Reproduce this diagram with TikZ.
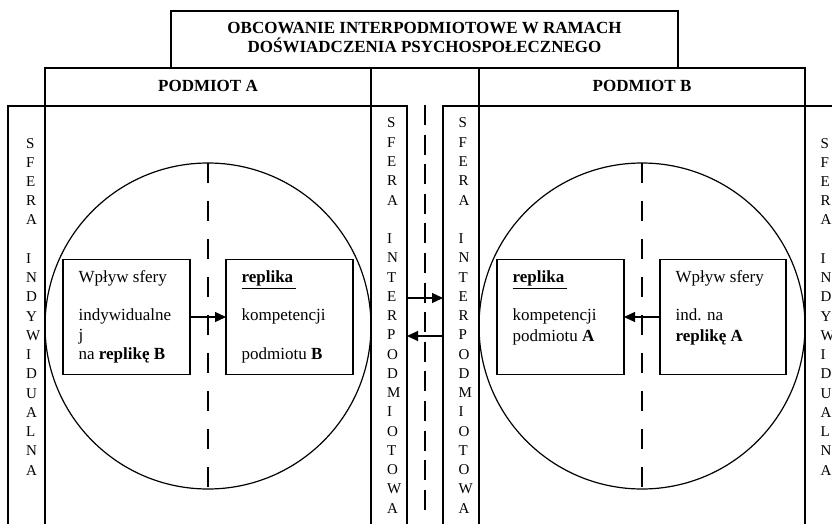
\documentclass[tikz,border=0pt]{standalone}
\usepackage{fontspec}
\setmainfont{Liberation Serif}
\usetikzlibrary{arrows.meta}
\begin{document}
\begin{tikzpicture}[x=1pt,y=-1pt, line width=1.2pt,
  frame/.style={draw, rectangle, inner sep=0pt, outer sep=0pt},
  box/.style={draw, rectangle, minimum width=127, minimum height=115.5, inner sep=0pt, outer sep=0pt},
  txt/.style={font=\fontsize{17}{19}\selectfont, inner sep=0pt, anchor=base west},
  head/.style={font=\bfseries\fontsize{17}{19}\selectfont, inner sep=0pt, anchor=base},
  vlet/.style={font=\fontsize{15}{18}\selectfont, inner sep=0pt, anchor=base west},
  arr/.style={-{Triangle[length=11pt,width=10pt]}, line width=1.2pt},
  cdash/.style={dash pattern=on 20pt off 18.06pt},
  mdash/.style={dash pattern=on 20pt off 9.6pt}]
\useasboundingbox (0,0) rectangle (832,524);
\clip (0,0) rectangle (832,524);
% frame
\node[frame, minimum width=507, minimum height=57] (title) at (424.5,39.5) {};
\node[head] (t1) at (424.5,33.3) {OBCOWANIE INTERPODMIOTOWE W RAMACH};
\node[head] (t2) at (424.5,52.7) {DOŚWIADCZENIA PSYCHOSPOŁECZNEGO};
\node[frame, minimum width=326, minimum height=38] (hA) at (208,87) {};
\node[frame, minimum width=326, minimum height=38] (hB) at (642,87) {};
\node[head] (hAt) at (208,91.7) {PODMIOT A};
\node[head] (hBt) at (642,91.7) {PODMIOT B};
\node[frame, minimum width=37, minimum height=434] (colL) at (26.5,323) {};
\node[frame, minimum width=326, minimum height=434] (regA) at (208,323) {};
\node[frame, minimum width=36, minimum height=434] (sL) at (389,323) {};
\node[frame, minimum width=36, minimum height=434] (sR) at (461,323) {};
\node[frame, minimum width=326, minimum height=434] (regB) at (642,323) {};
\node[frame, minimum width=40, minimum height=434] (colR) at (825,323) {};
% middle dashed line
\coordinate (mt) at (425,105);
\coordinate (mb) at (425,510);
\draw[mdash] (mt) -- (mb);
% circles
\node[draw, circle, minimum size=326, inner sep=0pt, outer sep=0pt] (cA) at (208,326) {};
\node[draw, circle, minimum size=326, inner sep=0pt, outer sep=0pt] (cB) at (642,326) {};
\draw[cdash] (cA.north) -- (cA.south);
\draw[cdash] (cB.north) -- (cB.south);
% boxes
\node[box, fill=white] (wA) at (126.5,317) {};
\node[box, fill=white] (rA) at (289.5,317) {};
\node[box, fill=white] (rB) at (560.5,317) {};
\node[box, fill=white, minimum width=126] (wB) at (723,317) {};
\node[txt] (wA1) at (78,282.7) {Wpływ sfery};
\node[txt] (wA2) at (78,320.7) {indywidualne};
\node[txt] (wA3) at (78,340) {j};
\node[txt] (wA4) at (78,359) {na \textbf{replikę B}};
\node[txt] (rA1) at (241,282.7) {\underline{\textbf{replika}\hspace{3pt}}};
\node[txt] (rA2) at (241,320.7) {kompetencji};
\node[txt] (rA3) at (241,359) {podmiotu \textbf{B}};
\node[txt] (rB1) at (512,282.7) {\underline{\textbf{replika}\hspace{3pt}}};
\node[txt] (rB2) at (512,320.7) {kompetencji};
\node[txt] (rB3) at (512,341) {podmiotu \textbf{A}};
\node[txt] (wB1) at (675,282.7) {Wpływ sfery};
\node[txt] (wB2) at (675,320.7) {ind. na};
\node[txt] (wB3) at (675,341) {\textbf{replikę A}};
% arrows
\draw[arr] (wA.east) -- (rA.west);
\draw[arr] (wB.west) -- (rB.east);
\coordinate (m1) at (0,298);
\coordinate (m2) at (0,336);
\draw[arr] (sL.east |- m1) -- (sR.west |- m1);
\draw[arr] (sR.west |- m2) -- (sL.east |- m2);
% vertical letters
\foreach \ch [count=\i] in {S,F,E,R,A,{},I,N,D,Y,W,I,D,U,A,L,N,A} {
  \node[vlet] (lc\i) at (25.5,{148+19.24*(\i-1)}) {\ch};
  \node[vlet] (rc\i) at (820,{148+19.24*(\i-1)}) {\ch};
}
\foreach \ch [count=\i] in {S,F,E,R,A,{},I,N,T,E,R,P,O,D,M,I,O,T,O,W,A} {
  \node[vlet] (ls\i) at (386.5,{128+19.25*(\i-1)}) {\ch};
  \node[vlet] (rs\i) at (458,{128+19.25*(\i-1)}) {\ch};
}
\end{tikzpicture}
\end{document}
